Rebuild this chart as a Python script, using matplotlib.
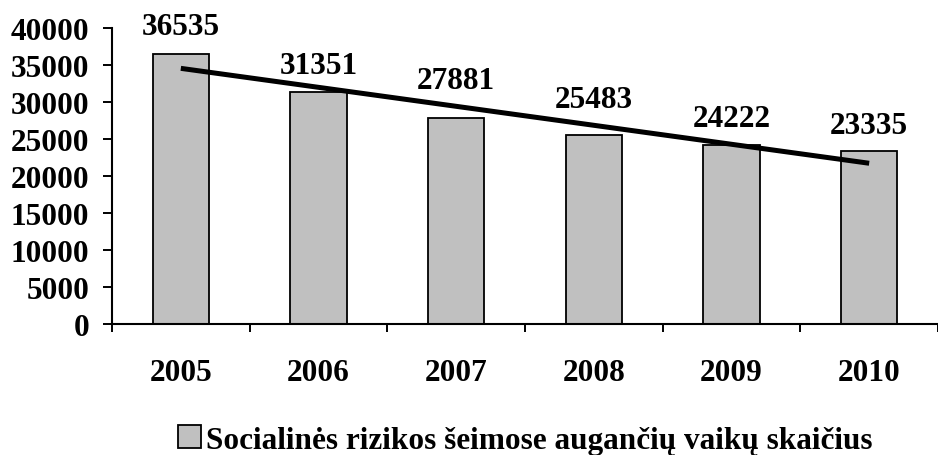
import numpy as np
import matplotlib
matplotlib.use("Agg")
import matplotlib.pyplot as plt
from matplotlib.patches import Patch

# data
years = ["2005", "2006", "2007", "2008", "2009", "2010"]
children = [36535, 31351, 27881, 25483, 24222, 23335]
series_name = "Socialinės rizikos šeimose augančių vaikų skaičius"

# how far (pixels) each value label's baseline sits above its bar
label_lift = [20, 19, 30, 28, 19, 18]

plt.rcParams["font.family"] = ["Liberation Serif", "DejaVu Serif"]
plt.rcParams["font.weight"] = "bold"
FS = 22.5

fig = plt.figure(figsize=(9.38, 4.56), dpi=100)
ax = fig.add_axes([0.1194, 0.2873, 0.8806, 0.6491])

x = np.arange(len(years))
ax.bar(x, children, width=0.41, color="#c0c0c0", edgecolor="black", linewidth=1.3)

# linear trend line over the bars
k, b = np.polyfit(x, children, 1)
ax.plot(x[[0, -1]], k * x[[0, -1]] + b, color="black", linewidth=3.6, solid_capstyle="butt")

for xi, v, lift in zip(x, children, label_lift):
    ax.annotate(str(v), (xi, v), xytext=(0, lift), textcoords="offset pixels",
                ha="center", va="baseline", fontsize=FS, fontweight="bold")

ax.set_xlim(-0.5, len(years) - 0.5)
ax.set_ylim(0, 40000)
ax.set_yticks(np.arange(0, 40001, 5000))
ax.set_xticks(x)
ax.set_xticklabels(years)
ax.set_xticks(np.arange(-0.5, len(years)), minor=True)

ax.tick_params(axis="y", direction="out", length=6.5, width=1.4, pad=10, labelsize=FS)
ax.tick_params(axis="x", which="major", length=0, pad=24.5, labelsize=FS)
ax.tick_params(axis="x", which="minor", direction="out", length=6, width=1.4)

for side in ["top", "right"]:
    ax.spines[side].set_visible(False)
for side in ["left", "bottom"]:
    ax.spines[side].set_linewidth(1.5)

handle = Patch(facecolor="#c0c0c0", edgecolor="black", linewidth=1.3)
fig.legend([handle], [series_name], loc="center", bbox_to_anchor=(0.560, 0.033),
           frameon=False, fontsize=FS, handlelength=0.75, handleheight=0.75,
           handletextpad=0.15, borderpad=0)

fig.savefig("out.png", dpi=100)
